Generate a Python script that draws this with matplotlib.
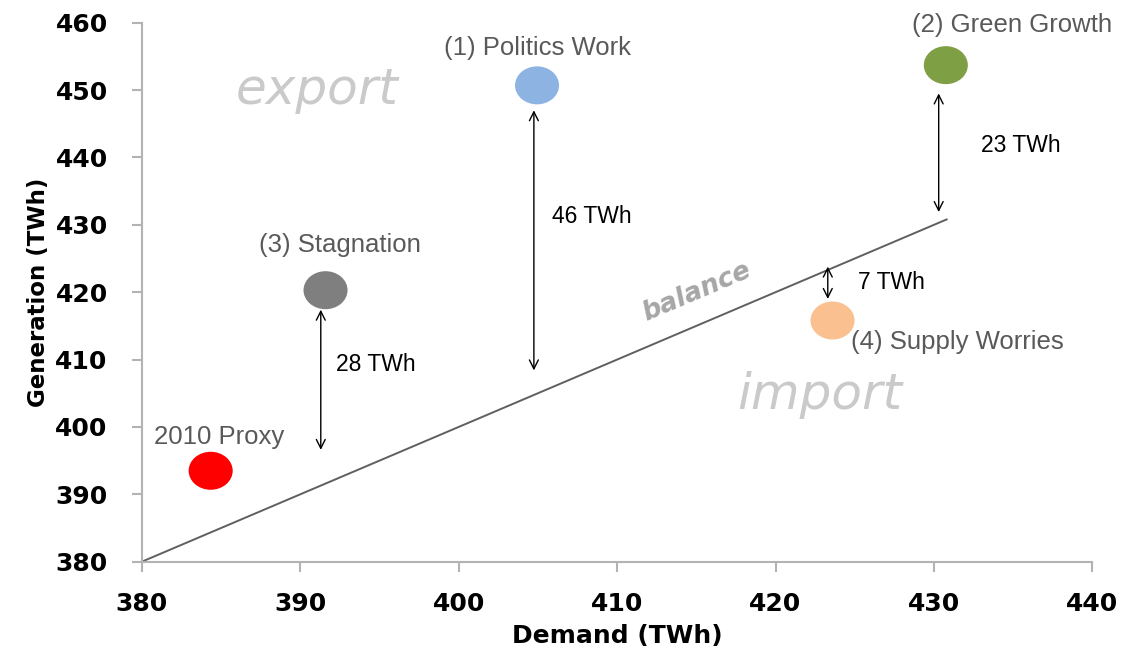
import matplotlib
matplotlib.use("Agg")
import matplotlib.pyplot as plt
from matplotlib.patches import Ellipse

# scenario points (Demand, Generation) in TWh
names = ["2010 Proxy", "(3) Stagnation", "(1) Politics Work", "(2) Green Growth", "(4) Supply Worries"]
demand = [384.35, 391.6, 404.95, 430.75, 423.6]
generation = [393.5, 420.3, 450.7, 453.7, 415.8]
colors = ["#ff0000", "#7f7f7f", "#8db3e2", "#7f9f45", "#fac090"]

# label positions for each scenario
label_x = [384.9, 392.5, 405.0, 434.9, 431.5]
label_y = [398.5, 427.0, 456.2, 459.6, 412.6]

# balance line (demand == generation)
balance = [380, 430.8]

# gap arrows: x, y_from, y_to, label, label x, label y
gap_x = [391.3, 404.75, 430.3, 423.3]
gap_top = [417.4, 447.0, 449.5, 423.8]
gap_bottom = [396.6, 408.4, 431.9, 419.0]
gap_text = ["28 TWh", "46 TWh", "23 TWh", "7 TWh"]
gap_tx = [394.8, 408.4, 435.5, 427.3]
gap_ty = [409.3, 431.2, 441.8, 421.5]

fig = plt.figure(figsize=(11.25, 6.56), dpi=100)
ax = fig.add_axes([0.126, 0.1437, 0.845, 0.8217])

ax.plot(balance, balance, color="#5f5f5f", lw=1.4, zorder=2)

for x, y, c in zip(demand, generation, colors):
    ax.add_patch(Ellipse((x, y), 2.78, 5.64, color=c, zorder=3, lw=0))

for x, y, t in zip(label_x, label_y, names):
    ax.text(x, y, t, ha="center", va="center", fontsize=18.5,
            family="Liberation Sans", color="#595959", clip_on=False)

for x, y0, y1 in zip(gap_x, gap_top, gap_bottom):
    ax.annotate("", xy=(x, y1), xytext=(x, y0),
                arrowprops=dict(arrowstyle="<->", color="black", lw=1,
                                shrinkA=0, shrinkB=0, mutation_scale=16))

for x, y, t in zip(gap_tx, gap_ty, gap_text):
    ax.text(x, y, t, ha="center", va="center", fontsize=16.5,
            family="Liberation Sans", color="black")

ax.text(391.1, 450.0, "export", ha="center", va="center", fontsize=36,
        style="italic", color="#cacaca", family="DejaVu Sans", fontweight="light")
ax.text(422.8, 404.7, "import", ha="center", va="center", fontsize=36,
        style="italic", color="#cacaca", family="DejaVu Sans", fontweight="light")
ax.text(415.0, 420.1, "balance", ha="center", va="center", fontsize=19,
        style="italic", fontweight="bold", color="#a6a6a6", rotation=23,
        family="DejaVu Sans")

ax.set_xlim(380, 440)
ax.set_ylim(380, 460)
ax.set_xticks(range(380, 441, 10))
ax.set_yticks(range(380, 461, 10))

for s in ["top", "right"]:
    ax.spines[s].set_visible(False)
for s in ["left", "bottom"]:
    ax.spines[s].set_color("#b3b3b3")
    ax.spines[s].set_linewidth(1.5)

ax.tick_params(axis="both", colors="#b3b3b3", length=7.5, width=1.5,
               labelcolor="black", labelsize=18)
ax.tick_params(axis="x", pad=14)
ax.tick_params(axis="y", pad=17)
for lab in ax.get_xticklabels() + ax.get_yticklabels():
    lab.set_fontweight("bold")

ax.set_xlabel("Demand (TWh)", fontsize=18, fontweight="bold", labelpad=6)
ax.set_ylabel("Generation (TWh)", fontsize=16.5, fontweight="bold", labelpad=4)

fig.savefig("out.png", dpi=100)
